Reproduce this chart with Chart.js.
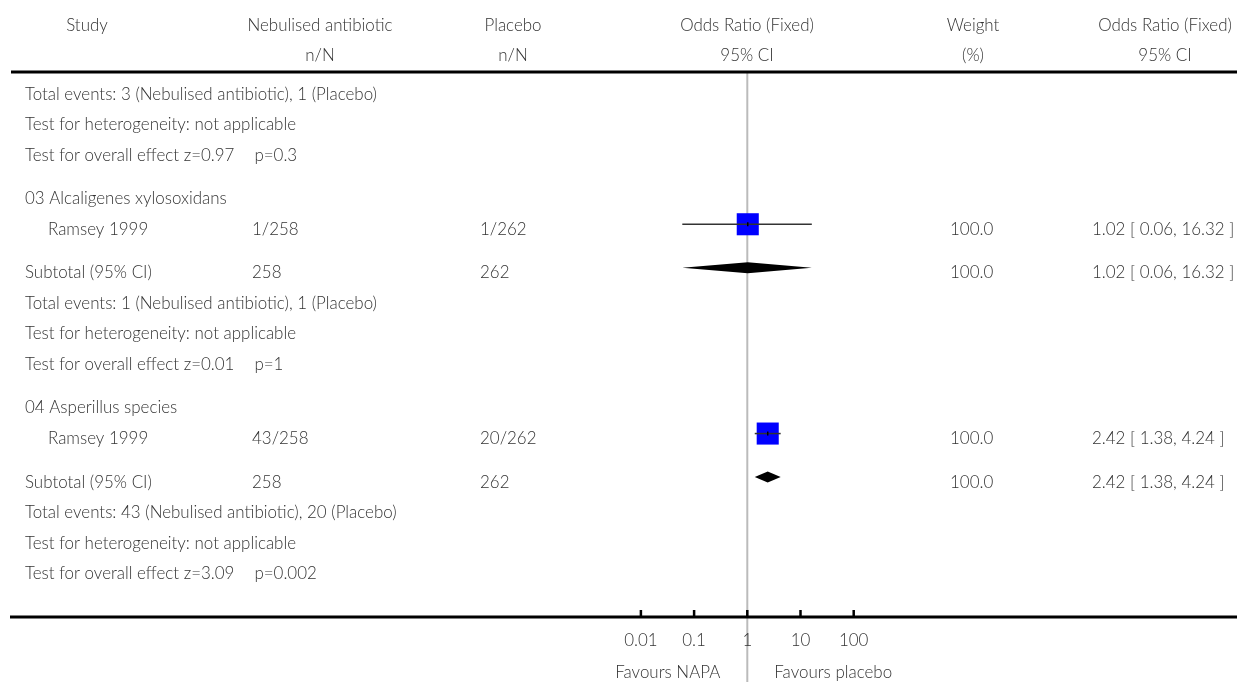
<!DOCTYPE html>
<html lang="en">
<head>
<meta charset="UTF-8">
<title>Forest plot</title>
<script src="https://cdn.jsdelivr.net/npm/chart.js"></script>
<style>
    html, body { margin: 0; padding: 0; background: #fff; }
    #forest { display: block; }
</style>
</head>
<body>
<canvas id="forest" width="1237" height="682"></canvas>
<script>
// values
const groupNames = ['03 Alcaligenes xylosoxidans', '04 Asperillus species'];
const studyNames = ['Ramsey 1999', 'Ramsey 1999'];
const treatEvents = ['1/258', '43/258'];
const placeboEvents = ['1/262', '20/262'];
const studyOR = [1.02, 2.42];
const studyLow = [0.06, 1.38];
const studyHigh = [16.32, 4.24];
const studyWeight = [100.0, 100.0];
const subTreatN = [258, 258];
const subPlaceboN = [262, 262];
const subOR = [1.02, 2.42];
const subLow = [0.06, 1.38];
const subHigh = [16.32, 4.24];
const subWeight = [100.0, 100.0];
// first block is the tail of the subgroup above the visible part
const totalTreat = [3, 1, 43];
const totalPlacebo = [1, 1, 20];
const zValues = ['0.97', '0.01', '3.09'];
const pValues = ['0.3', '1', '0.002'];
const axisTicks = [0.01, 0.1, 1, 10, 100];
const axisTickLabels = ['0.01', '0.1', '1', '10', '100'];
const headers = [
    ['Study', ''],
    ['Nebulised antibiotic', 'n/N'],
    ['Placebo', 'n/N'],
    ['Odds Ratio (Fixed)', '95% CI'],
    ['Weight', '(%)'],
    ['Odds Ratio (Fixed)', '95% CI']
];

// layout (pixels)
const W = 1237, H = 682;
const areaLeft = 11, areaTop = 72, areaBottom = 617;
const nullX = 747.3, decade = 53.2;       // pixel of OR=1, pixels per decade
const rowBase = 89, rowStep = 30.6, gap = 0.42;
const headerX = [87, 320, 513, 747, 973, 1165];
const headerY = [31, 61];
const col = { study: 25, indent: 48, treat: 252, placebo: 480, weight: 950, ci: 1092 };
const FAMILY = 'Lato, "Open Sans", sans-serif';
const TEXT = '#333';

// fit the font size so the long text line is about as wide as in the picture
const probe = document.createElement('canvas').getContext('2d');
probe.font = '300 15px ' + FAMILY;
const fontSize = 15 * 352 / probe.measureText('Total events: 3 (Nebulised antibiotic), 1 (Placebo)').width;
const FONT = '300 ' + fontSize.toFixed(2) + 'px ' + FAMILY;

function ci(e, l, h) {
    return e.toFixed(2) + ' [ ' + l.toFixed(2) + ', ' + h.toFixed(2) + ' ]';
}

// build the rows of the table
const rows = [];
let pos = 0;
function addRow(cells, spaced) {
    if (spaced) pos += gap;
    rows.push(Object.assign({ pos: pos }, cells));
    pos += 1;
    return pos - 1;
}
function footer(i, spaced) {
    addRow({ study: 'Total events: ' + totalTreat[i] + ' (Nebulised antibiotic), ' + totalPlacebo[i] + ' (Placebo)' }, spaced);
    addRow({ study: 'Test for heterogeneity: not applicable' });
    addRow({ study: 'Test for overall effect z=' + zValues[i], pval: 'p=' + pValues[i] });
}
const studyPos = [], subPos = [];
footer(0, false);
groupNames.forEach(function (g, i) {
    addRow({ study: g }, true);
    studyPos.push(addRow({
        indent: studyNames[i], treat: treatEvents[i], placebo: placeboEvents[i],
        weight: studyWeight[i].toFixed(1), ci: ci(studyOR[i], studyLow[i], studyHigh[i])
    }));
    subPos.push(addRow({
        study: 'Subtotal (95% CI)', treat: String(subTreatN[i]), placebo: String(subPlaceboN[i]),
        weight: subWeight[i].toFixed(1), ci: ci(subOR[i], subLow[i], subHigh[i])
    }, true));
    footer(i + 1, false);
});

const tablePlugin = {
    id: 'forestTable',
    beforeDatasetsDraw(chart) {
        const ctx = chart.ctx, x = chart.scales.x;
        ctx.save();
        // line of no effect
        ctx.strokeStyle = '#bbbbbb';
        ctx.lineWidth = 2;
        ctx.beginPath();
        ctx.moveTo(x.getPixelForValue(1), areaTop);
        ctx.lineTo(x.getPixelForValue(1), H);
        ctx.stroke();
        ctx.restore();
    },
    afterDatasetsDraw(chart) {
        const ctx = chart.ctx, x = chart.scales.x, y = chart.scales.y;
        ctx.save();
        // subtotal diamonds
        ctx.fillStyle = '#000';
        subPos.forEach(function (p, i) {
            const cy = y.getPixelForValue(p);
            ctx.beginPath();
            ctx.moveTo(x.getPixelForValue(subLow[i]), cy);
            ctx.lineTo(x.getPixelForValue(subOR[i]), cy - 5.5);
            ctx.lineTo(x.getPixelForValue(subHigh[i]), cy);
            ctx.lineTo(x.getPixelForValue(subOR[i]), cy + 5.5);
            ctx.closePath();
            ctx.fill();
        });

        // header
        ctx.font = FONT;
        ctx.fillStyle = TEXT;
        ctx.textBaseline = 'alphabetic';
        ctx.textAlign = 'center';
        headers.forEach(function (h, i) {
            ctx.fillText(h[0], headerX[i], headerY[0]);
            if (h[1]) ctx.fillText(h[1], headerX[i], headerY[1]);
        });

        // rules
        ctx.fillStyle = '#000';
        ctx.fillRect(areaLeft, areaTop - 1.5, W - areaLeft, 3);
        ctx.fillRect(areaLeft - 1, areaBottom - 1.5, W - areaLeft + 1, 3);

        // table body
        ctx.fillStyle = TEXT;
        ctx.textAlign = 'left';
        rows.forEach(function (r) {
            const ty = y.getPixelForValue(r.pos) + 10.5;
            ['study', 'indent', 'treat', 'placebo', 'weight', 'ci'].forEach(function (k) {
                if (r[k] !== undefined) ctx.fillText(r[k], col[k], ty);
            });
            if (r.pval) {
                const w = ctx.measureText(r.study).width;
                ctx.fillText(r.pval, col.study + w + 20, ty);
            }
        });

        // axis ticks and labels
        ctx.textAlign = 'center';
        axisTicks.forEach(function (v, i) {
            const px = x.getPixelForValue(v);
            ctx.fillStyle = '#000';
            ctx.fillRect(px - 1.25, areaBottom - 7, 2.5, 7);
            ctx.fillStyle = TEXT;
            ctx.fillText(axisTickLabels[i], px, 646);
        });
        const one = x.getPixelForValue(1);
        ctx.textAlign = 'right';
        ctx.fillText('Favours NAPA', one - 27, 678);
        ctx.textAlign = 'left';
        ctx.fillText('Favours placebo', one + 27, 678);
        ctx.restore();
    }
};

const studyPoints = studyOR.map(function (v, i) { return { x: v, y: studyPos[i] }; });
const datasets = [
    {   // small mark at the point estimate
        data: studyPoints,
        pointStyle: 'line', rotation: 90, pointRadius: 2,
        borderColor: '#000', borderWidth: 1.5, order: 1
    }
];
studyOR.forEach(function (v, i) {
    datasets.push({
        data: [{ x: studyLow[i], y: studyPos[i] }, { x: studyHigh[i], y: studyPos[i] }],
        showLine: true, pointRadius: 0, borderColor: '#333', borderWidth: 1.5, order: 2
    });
});
datasets.push({
    data: studyPoints,
    pointStyle: 'rect', pointRadius: 15.6,
    backgroundColor: '#0000ff', borderWidth: 0, order: 3
});

new Chart(document.getElementById('forest').getContext('2d'), {
    type: 'scatter',
    data: { datasets: datasets },
    options: {
        responsive: false,
        animation: false,
        events: [],
        layout: {
            autoPadding: false,
            padding: { left: areaLeft, right: 0, top: areaTop, bottom: H - areaBottom }
        },
        plugins: { legend: { display: false }, tooltip: { enabled: false } },
        scales: {
            x: {
                type: 'logarithmic', display: false,
                min: Math.pow(10, (areaLeft - nullX) / decade),
                max: Math.pow(10, (W - nullX) / decade)
            },
            y: {
                type: 'linear', display: false, reverse: true,
                min: (areaTop - rowBase) / rowStep,
                max: (areaBottom - rowBase) / rowStep
            }
        }
    },
    plugins: [tablePlugin]
});
</script>
</body>
</html>
